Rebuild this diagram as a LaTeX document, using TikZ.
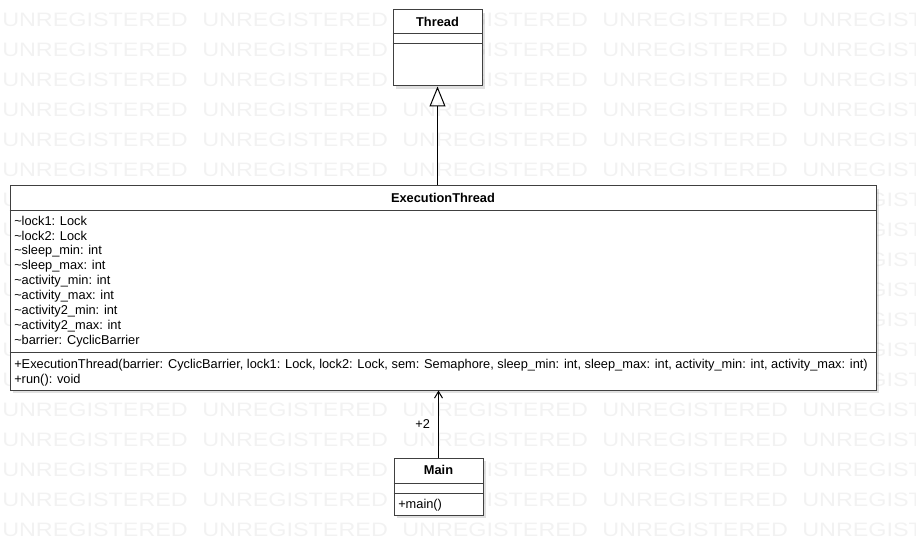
\documentclass[tikz,border=0pt]{standalone}
\usepackage{fontspec}
\setmainfont{Liberation Sans}
\newfontfamily\wmfont[FakeStretch=1.2]{Liberation Sans}
\usetikzlibrary{arrows.meta,shadows}
\begin{document}
\begin{tikzpicture}[x=0.75pt,y=-0.75pt,>=stealth,
  classbox/.style={draw=black!75, fill=white, line width=0.75pt, inner sep=0pt,
    drop shadow={shadow xshift=2.25pt, shadow yshift=-2.25pt, fill=black, opacity=0.12}},
  sepline/.style={draw=black!75, line width=0.75pt},
  classname/.style={font=\fontsize{9.6}{11}\selectfont\bfseries, inner sep=0pt},
  member/.style={font=\fontsize{9.6}{11}\selectfont, anchor=west, inner sep=0pt},
  watermark/.style={font=\wmfont\fontsize{14.6}{16}\selectfont, text=black!5, anchor=west, inner sep=0pt},
  link/.style={draw=black, line width=0.75pt}]
\useasboundingbox (0,0) rectangle (916,555);
\begin{scope}
\clip (0,0) rectangle (916,555);
\foreach \r in {0,...,17}
  \foreach \c in {0,...,4}
    \node[watermark] (wm-\r-\c) at (2+200*\c,20+30*\r) {UNREGISTERED};
\end{scope}

\node[classbox, minimum width=66.75pt, minimum height=57pt] (thread) at (437.5,48) {};
\node[classname] (threadname) at (437.5,22) {Thread};
\draw[sepline] (thread.west |- 0,34) -- (thread.east |- 0,34);
\draw[sepline] (thread.west |- 0,44) -- (thread.east |- 0,44);

\node[classbox, minimum width=649.5pt, minimum height=153pt] (exec) at (443,288) {};
\node[classname] (execname) at (443,198) {ExecutionThread};
\draw[sepline] (exec.west |- 0,211) -- (exec.east |- 0,211);
\node[member] (a1) at (14,221) {\textasciitilde lock1: Lock};
\node[member] (a2) at (14,236) {\textasciitilde lock2: Lock};
\node[member] (a3) at (14,251) {\textasciitilde sleep\_min: int};
\node[member] (a4) at (14,266) {\textasciitilde sleep\_max: int};
\node[member] (a5) at (14,281) {\textasciitilde activity\_min: int};
\node[member] (a6) at (14,296) {\textasciitilde activity\_max: int};
\node[member] (a7) at (14,311) {\textasciitilde activity2\_min: int};
\node[member] (a8) at (14,326) {\textasciitilde activity2\_max: int};
\node[member] (a9) at (14,341) {\textasciitilde barrier: CyclicBarrier};
\draw[sepline] (exec.west |- 0,353) -- (exec.east |- 0,353);
\node[member] (m1) at (14,365) {+ExecutionThread(barrier: CyclicBarrier, lock1: Lock, lock2: Lock, sem: Semaphore, sleep\_min: int, sleep\_max: int, activity\_min: int, activity\_max: int)};
\node[member] (m2) at (14,380) {+run(): void};

\node[classbox, minimum width=66.75pt, minimum height=42.75pt] (main) at (438.5,486.5) {};
\node[classname] (mainname) at (438.5,470) {Main};
\draw[sepline] (main.west |- 0,483) -- (main.east |- 0,483);
\draw[sepline] (main.west |- 0,493) -- (main.east |- 0,493);
\node[member] (mm1) at (398,505) {+main()};

\draw[link, -{Triangle[open, length=15pt, width=12pt]}] (exec.north -| thread.south) -- (thread.south);
\draw[link, -{Straight Barb[length=5pt, width=6pt]}] (main.north) -- (main.north |- exec.south)
  node[midway, left=6pt, font=\fontsize{9.6}{11}\selectfont, inner sep=0pt] (mult) {+2};
\end{tikzpicture}
\end{document}
